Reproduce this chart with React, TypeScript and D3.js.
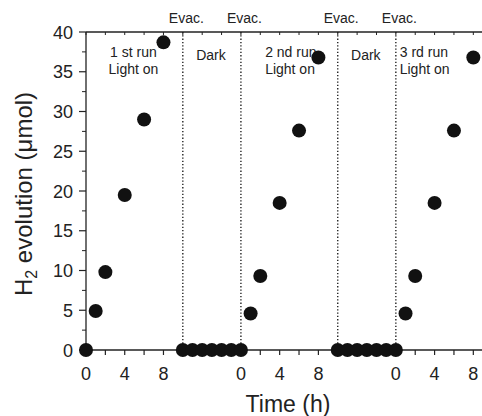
import React from "react";
import * as d3 from "d3";

// run 1 (light), dark 1, run 2, dark 2, run 3 -- all on one continuous time axis (h)
const run1Time = [0, 1, 2, 4, 6, 8];
const run1H2 = [0, 4.9, 9.8, 19.5, 29.0, 38.7];
const dark1Time = [10, 11, 12, 13, 14, 15, 16];
const dark1H2 = [0, 0, 0, 0, 0, 0, 0];
const run2Time = [17, 18, 20, 22, 24];
const run2H2 = [4.6, 9.3, 18.5, 27.6, 36.8];
const dark2Time = [26, 27, 28, 29, 30, 31, 32];
const dark2H2 = [0, 0, 0, 0, 0, 0, 0];
const run3Time = [33, 34, 36, 38, 40];
const run3H2 = [4.6, 9.3, 18.5, 27.6, 36.8];

const evacTimes = [10, 16, 26, 32];
const xTickValues = [0, 4, 8, 16, 20, 24, 32, 36, 40];
const xTickLabels = ["0", "4", "8", "0", "4", "8", "0", "4", "8"];
const yTickValues = [0, 5, 10, 15, 20, 25, 30, 35, 40];

const W = 482;
const H = 416;
const FONT = "'Liberation Sans', Arial, sans-serif";
const INK = "#222";

export default function App() {
  const x = d3.scaleLinear().domain([0, 41]).range([86, 483]);
  const y = d3.scaleLinear().domain([0, 40]).range([350, 32]);

  const points = [
    ...run1Time.map((t, i) => [t, run1H2[i]]),
    ...dark1Time.map((t, i) => [t, dark1H2[i]]),
    ...run2Time.map((t, i) => [t, run2H2[i]]),
    ...dark2Time.map((t, i) => [t, dark2H2[i]]),
    ...run3Time.map((t, i) => [t, run3H2[i]]),
  ];

  const minorX = d3.range(0, 41, 2);
  const minorY = d3.range(2.5, 40, 5);

  const notes = [
    { t: 4.9, lines: ["1 st run", "Light on"], anchor: "middle" },
    { t: 12.9, lines: ["Dark"], anchor: "middle" },
    { t: 18.5, lines: ["2 nd run", "Light on"], anchor: "start" },
    { t: 28.9, lines: ["Dark"], anchor: "middle" },
    { t: 32.4, lines: ["3 rd run", "Light on"], anchor: "start" },
  ];

  return (
    <svg
      width={W}
      height={H}
      style={{ position: "absolute", left: 0, top: 0, background: "#fff" }}
      fontFamily={FONT}
    >
      {/* dotted separators */}
      {evacTimes.map((t) => (
        <line
          key={"d" + t}
          x1={x(t)}
          x2={x(t)}
          y1={y(40)}
          y2={y(0)}
          stroke="#111"
          strokeWidth={1.3}
          strokeDasharray="1.3,2"
        />
      ))}

      {/* axes frame */}
      <line x1={x(0)} x2={W} y1={y(0)} y2={y(0)} stroke={INK} strokeWidth={1.3} />
      <line x1={x(0)} x2={W} y1={y(40)} y2={y(40)} stroke={INK} strokeWidth={1.3} />
      <line x1={x(0)} x2={x(0)} y1={y(0)} y2={y(40)} stroke={INK} strokeWidth={1.3} />

      {/* x ticks */}
      {minorX.map((t) => (
        <g key={"xt" + t}>
          <line x1={x(t)} x2={x(t)} y1={y(0)} y2={y(0) + 5} stroke={INK} strokeWidth={1.2} />
          <line x1={x(t)} x2={x(t)} y1={y(40)} y2={y(40) + 3} stroke={INK} strokeWidth={1} />
        </g>
      ))}
      {xTickValues.map((t, i) => (
        <text key={"xl" + t} x={x(t)} y={380} fontSize={18} textAnchor="middle" fill={INK}>
          {xTickLabels[i]}
        </text>
      ))}

      {/* y ticks */}
      {yTickValues.map((v) => (
        <g key={"yt" + v}>
          <line x1={x(0) - 7} x2={x(0)} y1={y(v)} y2={y(v)} stroke={INK} strokeWidth={1.2} />
          <text x={73} y={y(v) + 6.5} fontSize={18} textAnchor="end" fill={INK}>
            {v}
          </text>
        </g>
      ))}
      {minorY.map((v) => (
        <line key={"ym" + v} x1={x(0) - 4} x2={x(0)} y1={y(v)} y2={y(v)} stroke={INK} strokeWidth={1} />
      ))}

      {/* axis titles */}
      <text
        transform={`translate(32, 194) rotate(-90)`}
        fontSize={24}
        textAnchor="middle"
        fill={INK}
      >
        H<tspan fontSize={16} dy={5}>2</tspan>
        <tspan dy={-5}> evolution (μmol)</tspan>
      </text>
      <text x={288} y={412} fontSize={23} textAnchor="middle" fill={INK}>
        Time (h)
      </text>

      {/* Evac labels */}
      {evacTimes.map((t) => (
        <text key={"e" + t} x={x(t) + 3.5} y={23} fontSize={14} textAnchor="middle" fill={INK}>
          Evac.
        </text>
      ))}

      {/* run notes */}
      {notes.map((n, i) => (
        <text
          key={"n" + i}
          x={x(n.t)}
          y={n.lines.length === 1 ? 60 : 57}
          fontSize={14}
          textAnchor={n.anchor}
          fill={INK}
        >
          {n.lines.map((l, j) => (
            <tspan key={j} x={x(n.t)} dy={j === 0 ? 0 : 17}>
              {l}
            </tspan>
          ))}
        </text>
      ))}

      {/* data points */}
      {points.map(([t, v], i) => (
        <circle key={"p" + i} cx={x(t)} cy={y(v)} r={7} fill="#111" />
      ))}
    </svg>
  );
}
